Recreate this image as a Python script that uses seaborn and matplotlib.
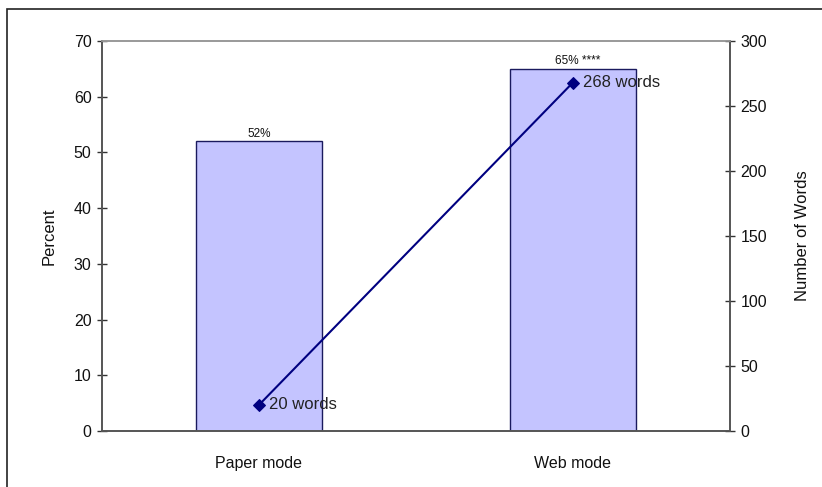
import matplotlib
matplotlib.use('Agg')
import matplotlib.pyplot as plt
import seaborn as sns
import pandas as pd
from matplotlib.patches import Rectangle

# data
modes = ['Paper mode', 'Web mode']
percent = [52, 65]
words = [20, 268]
pct_labels = ['52%', '65% ****']
word_labels = ['20 words', '268 words']

df = pd.DataFrame({'mode': modes, 'percent': percent, 'words': words})

sns.set_style('white')
plt.rcParams['font.family'] = ['Liberation Sans', 'DejaVu Sans']
plt.rcParams['text.color'] = '#111111'

fig = plt.figure(figsize=(8.22, 4.87), dpi=100)
ax = fig.add_axes([0.124, 0.115, 0.764, 0.801])

# outer chart-area border (right/bottom fall outside the picture)
fig.patches.append(Rectangle((7 / 822, -0.05), 1.1, 1 - 9 / 487 + 0.05,
                             transform=fig.transFigure, fill=False,
                             edgecolor='#222222', linewidth=1.2, zorder=0))

sns.barplot(data=df, x='mode', y='percent', ax=ax, width=0.4,
            color='#C4C4FF', edgecolor='#1a1a5e', linewidth=1.0,
            saturation=1)
ax.set_xlim(-0.5, 1.5)
ax.set_ylim(0, 70)
ax.set_yticks(range(0, 71, 10))
ax.set_xlabel('')
ax.set_ylabel('Percent', fontsize=12, labelpad=12, color='#111111')

# bar value labels
ax.text(0, 52.3, pct_labels[0], ha='center', va='bottom', fontsize=8.5)
ax.text(1.016, 65.3, pct_labels[1], ha='center', va='bottom', fontsize=8.5)

ax2 = ax.twinx()
sns.lineplot(data=df, x='mode', y='words', ax=ax2, color='#000080',
             marker='D', markersize=6, markeredgecolor='#000080',
             linewidth=1.5)
ax2.set_ylim(0, 300)
ax2.set_yticks(range(0, 301, 50))
ax2.set_xlim(-0.5, 1.5)
ax2.set_ylabel('Number of Words', fontsize=12, labelpad=20, color='#111111')
for i, lab in enumerate(word_labels):
    ax2.annotate(lab, (i, words[i]), xytext=(7, 0), textcoords='offset points',
                 ha='left', va='center', fontsize=12, color='#222222')

# axes styling
for a in (ax, ax2):
    for s in a.spines.values():
        s.set_color('#555555')
        s.set_linewidth(1.2)
    a.tick_params(axis='y', direction='inout', length=7, width=1,
                  color='#333333', labelsize=11.5, pad=4,
                  labelcolor='#111111')
ax.spines['top'].set_color('#999999')
ax2.spines['top'].set_color('#999999')
ax.tick_params(axis='x', length=0, labelsize=11.5, pad=18,
               labelcolor='#111111')
ax.set_xticks([0.5], minor=True)
ax.tick_params(axis='x', which='minor', direction='inout', length=8,
               width=1.2, color='#111111')
ax2.grid(False)
ax.grid(False)

fig.savefig('out.png', dpi=100)
